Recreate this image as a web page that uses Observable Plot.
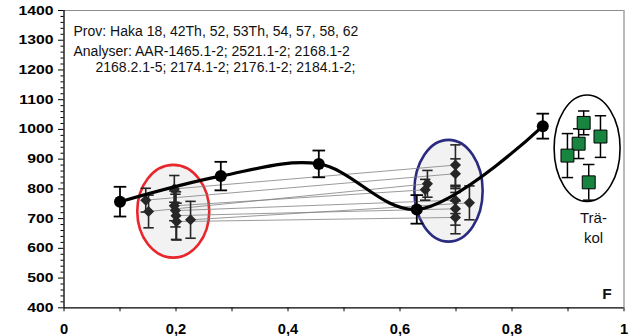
<!DOCTYPE html>
<html>
<head>
<meta charset="utf-8">
<script src="https://cdn.jsdelivr.net/npm/d3@7"></script>
<script src="https://cdn.jsdelivr.net/npm/@observablehq/plot@0.6"></script>
<style>
  body { margin: 0; background: #fff; }
  #chart svg { display: block; }
</style>
</head>
<body>
<div id="chart"></div>
<script>
// ---- Main series (black dots, smoothed line) ----
const mainF   = [0.10, 0.28, 0.455, 0.63, 0.855];
const mainAge = [757, 843, 884, 731, 1011];
const mainErr = [50, 48, 45, 48, 42];

// ---- Group 1 (red ellipse) ----
const g1F   = [0.146, 0.151, 0.197, 0.197, 0.199, 0.200, 0.201, 0.226];
const g1Age = [762, 724, 800, 743, 727, 710, 690, 696];
const g1Err = [40, 55, 45, 50, 55, 80, 62, 62];

// ---- Group 2 (blue ellipse), paired with group 1 by index ----
const g2F   = [0.699, 0.649, 0.699, 0.645, 0.699, 0.699, 0.699, 0.724];
const g2Age = [851, 817, 880, 797, 762, 733, 704, 753];
const g2Err = [50, 45, 68, 35, 45, 55, 55, 57];

// ---- Träkol (green squares) ----
const tkF   = [0.928, 0.919, 0.958, 0.899, 0.937];
const tkAge = [1022, 952, 976, 912, 822];
const tkErr = [40, 50, 70, 74, 60];

// ---- Ellipses (centre and radii in chart units) ----
const ellF    = [0.196, 0.6875, 0.935];
const ellAge  = [723, 792, 935];
const ellRF   = [0.0643, 0.061, 0.0589];
const ellRAge = [156, 171, 179];

// ---- Axis ticks and texts ----
const yTicks = [400, 500, 600, 700, 800, 900, 1000, 1100, 1200, 1300, 1400];
const xTicks = [0, 0.2, 0.4, 0.6, 0.8, 1];
const xTickLabels = ["0", "0,2", "0,4", "0,6", "0,8", "1"];
const xMinor = [0.1, 0.3, 0.5, 0.7, 0.9];
const annot12 = "Prov: Haka 18, 42Th, 52, 53Th, 54, 57, 58, 62\nAnalyser: AAR-1465.1-2; 2521.1-2; 2168.1-2";
const annot3 = "2168.2.1-5; 2174.1-2; 2176.1-2; 2184.1-2;";
const trakolLabel = "Trä-\nkol";
const panelLabel = "F";

// ---- build tables ----
const main = mainF.map((f, i) => ({f, age: mainAge[i], err: mainErr[i]}));
const g1 = g1F.map((f, i) => ({f, age: g1Age[i], err: g1Err[i]}));
const g2 = g2F.map((f, i) => ({f, age: g2Age[i], err: g2Err[i]}));
const groups = g1.concat(g2);
const pairs = g1.map((a, i) => ({a, b: g2[i]}));
const tk = tkF.map((f, i) => ({f, age: tkAge[i], err: tkErr[i]}));
const yMinor = d3.range(400, 1401, 20).filter(v => !yTicks.includes(v));

const ellStyle = [
  {fill: "#f2f2f2", stroke: "#e8262b", width: 2.6},
  {fill: "#f2f2f2", stroke: "#2b2b7f", width: 2.6},
  {fill: "#ffffff", stroke: "#000000", width: 1.6}
];

const capSymbol = {
  draw(ctx, size) {
    const r = Math.sqrt(size / Math.PI);
    ctx.moveTo(-r, 0);
    ctx.lineTo(r, 0);
  }
};

function errorBars(data, color, width, capR) {
  return [
    Plot.ruleX(data, {x: "f", y1: d => d.age - d.err, y2: d => d.age + d.err, stroke: color, strokeWidth: width}),
    Plot.dot(data, {x: "f", y: d => d.age - d.err, symbol: capSymbol, r: capR, stroke: color, strokeWidth: width, fill: "none"}),
    Plot.dot(data, {x: "f", y: d => d.age + d.err, symbol: capSymbol, r: capR, stroke: color, strokeWidth: width, fill: "none"})
  ];
}

function ellipses(index, scales) {
  const {x, y} = scales;
  const g = d3.create("svg:g").attr("aria-label", "ellipses");
  ellF.forEach((f, i) => {
    const cx = x(f), cy = y(ellAge[i]);
    const rx = Math.abs(x(f + ellRF[i]) - cx);
    const ry = Math.abs(y(ellAge[i] + ellRAge[i]) - cy);
    g.append("ellipse")
      .attr("cx", cx).attr("cy", cy).attr("rx", rx).attr("ry", ry)
      .attr("fill", ellStyle[i].fill)
      .attr("stroke", ellStyle[i].stroke)
      .attr("stroke-width", ellStyle[i].width);
  });
  return g.node();
}

const chart = Plot.plot({
  width: 635,
  height: 336,
  marginLeft: 63.5,
  marginRight: 11.5,
  marginTop: 10,
  marginBottom: 28.7,
  x: {domain: [0, 1], label: null},
  y: {domain: [400, 1400], label: null},
  style: {fontFamily: "'Liberation Sans', Arial, sans-serif", background: "#fff", overflow: "visible"},
  marks: [
    ellipses,
    Plot.ruleY([1400], {stroke: "#8c8c8c", strokeWidth: 1.2}),
    Plot.ruleX([1], {stroke: "#8c8c8c", strokeWidth: 1.2}),
    Plot.link(pairs, {x1: d => d.a.f, y1: d => d.a.age, x2: d => d.b.f, y2: d => d.b.age, stroke: "#808080", strokeWidth: 0.8}),
    ...errorBars(groups, "#262626", 1.6, 5.2),
    Plot.dot(groups, {x: "f", y: "age", symbol: "diamond2", r: 5, fill: "#262626"}),
    Plot.line(main, {x: "f", y: "age", curve: "catmull-rom", stroke: "#000", strokeWidth: 3.2}),
    ...errorBars(main, "#000", 1.8, 6.3),
    Plot.dot(main, {x: "f", y: "age", r: 6, fill: "#000"}),
    ...errorBars(tk, "#000", 1.5, 5.7),
    Plot.dot(tk, {x: "f", y: "age", symbol: "square", r: 7.3, fill: "#17843f", stroke: "#000", strokeWidth: 1}),
    Plot.text([trakolLabel], {x: () => 0.9455, y: () => 734, text: d => d, fontSize: 15, lineAnchor: "top", lineHeight: 1.33, fill: "#111", ariaLabel: "trakol"}),
    Plot.text([annot12], {frameAnchor: "top-left", text: d => d, dx: 9.5, dy: 11, lineAnchor: "top", lineHeight: 1.45, fontSize: 14, fill: "#111", ariaLabel: "annotation"}),
    Plot.text([annot3], {frameAnchor: "top-left", text: d => d, dx: 31.5, dy: 51.3, lineAnchor: "top", fontSize: 14, fill: "#111", ariaLabel: "annotation"}),
    Plot.text([panelLabel], {frameAnchor: "bottom-right", text: d => d, dx: -17, dy: -14, textAnchor: "middle", lineAnchor: "middle", fontSize: 15.5, fontWeight: "bold", fill: "#111", ariaLabel: "panel"}),
    Plot.ruleX([0], {stroke: "#000", strokeWidth: 1.3}),
    Plot.ruleY([400], {stroke: "#000", strokeWidth: 1.3}),
    Plot.axisY(yTicks, {tickSize: 5.5, tickPadding: 5, fontSize: 12.5, fontWeight: "bold", tickFormat: d => String(d), stroke: "#000", label: null}),
    Plot.axisY(yMinor, {tickSize: 3, text: null, stroke: "#000", label: null}),
    Plot.axisX(xTicks, {tickSize: 4, tickPadding: 12.5, fontSize: 14, fontWeight: "bold", tickFormat: d => xTickLabels[xTicks.indexOf(d)], stroke: "#000", label: null}),
    Plot.axisX(xMinor, {tickSize: 4, text: null, stroke: "#000", label: null})
  ]
});

// Horizontal stretch of texts to match the reference's wide lettering
const stretch = {"y-axis tick label": 1.26, "x-axis tick label": 1.05, "annotation": 1.26, "panel": 1.1};
chart.querySelectorAll("g[aria-label]").forEach(g => {
  const s = stretch[g.getAttribute("aria-label")];
  if (!s) return;
  g.querySelectorAll("text").forEach(t => {
    t.setAttribute("transform", (t.getAttribute("transform") || "") + ` scale(${s},1)`);
  });
});

document.getElementById("chart").appendChild(chart);
</script>
</body>
</html>
